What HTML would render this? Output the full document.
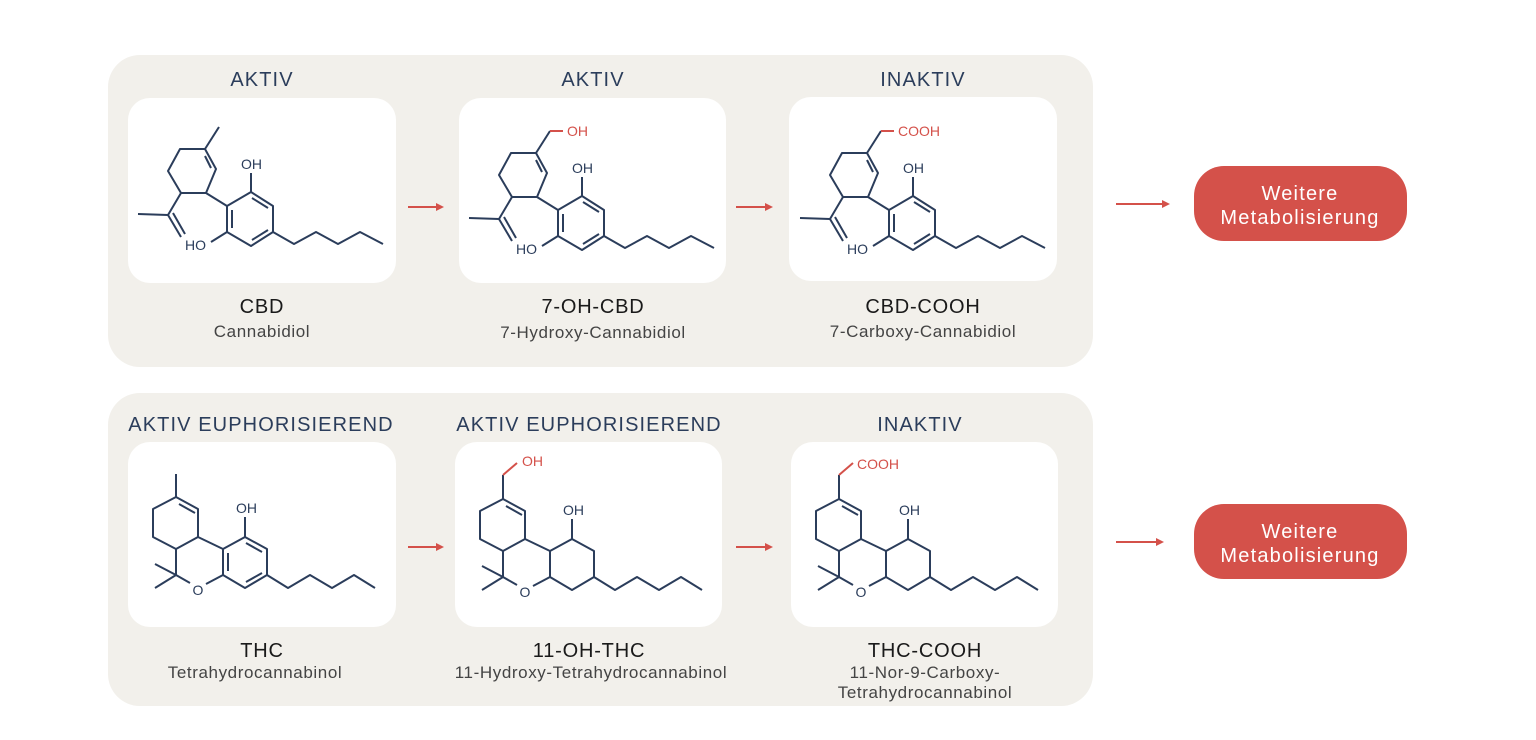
<!DOCTYPE html>
<html><head><meta charset="utf-8"><style>
html,body{margin:0;padding:0;background:#fff;}
svg{display:block}
text{font-family:"Liberation Sans",sans-serif}
</style></head><body>
<svg width="1536" height="740" viewBox="0 0 1536 740" xmlns="http://www.w3.org/2000/svg">
<defs>
<g id="cbdcore" fill="none" stroke="#2b3d5b" stroke-width="2" stroke-linejoin="round">
  <polyline points="77,51 52,51 40,73 53,95 78,95 88,71 77,51"/>
  <line x1="77" y1="58" x2="83" y2="70"/>
  <polyline points="53,95 40,117 10,116"/>
  <line x1="40" y1="117" x2="53" y2="139"/><line x1="45" y1="115" x2="57" y2="136"/>
  <line x1="78" y1="95" x2="99" y2="108"/>
  <polygon points="99,108 123,94 145,108 145,134 123,148 99,134"/>
  <line x1="104" y1="112" x2="104" y2="130"/><line x1="124" y1="100" x2="140" y2="110"/><line x1="124" y1="142" x2="140" y2="132"/>
  <line x1="123" y1="94" x2="123" y2="75"/>
  <line x1="99" y1="134" x2="83" y2="144"/>
  <polyline points="145,134 166,146 188,134 210,146 232,134 255,146"/>
</g>
<g id="thccore" fill="none" stroke="#2b3d5b" stroke-width="2" stroke-linejoin="round">
  <polygon points="48,55 70,67 70,95 48,107 25,95 25,67"/>
  <line x1="51" y1="62" x2="67" y2="71"/>
  <polyline points="70,95 95,107"/>
  <polyline points="48,107 48,133 62,141"/>
  <line x1="78" y1="142" x2="95" y2="133"/>
  <polygon points="95,107 117,95 139,107 139,133 117,146 95,133"/>
  <line x1="117" y1="95" x2="117" y2="75"/>
  <line x1="48" y1="133" x2="27" y2="122"/><line x1="48" y1="133" x2="27" y2="146"/>
  <polyline points="139,133 160,146 182,133 204,146 226,133 247,146"/>
</g>
<g id="arom" fill="none" stroke="#2b3d5b" stroke-width="2">
  <line x1="100" y1="111" x2="100" y2="129"/><line x1="118" y1="101" x2="134" y2="110"/><line x1="118" y1="140" x2="134" y2="131"/>
</g>
</defs>

<rect x="108" y="55" width="985" height="312" rx="32" fill="#f2f0eb"/>
<rect x="108" y="393" width="985" height="313" rx="32" fill="#f2f0eb"/>

<g fill="#fff">
<rect x="128" y="98" width="268" height="185" rx="22"/>
<rect x="459" y="98" width="267" height="185" rx="22"/>
<rect x="789" y="97" width="268" height="184" rx="22"/>
<rect x="128" y="442" width="268" height="185" rx="22"/>
<rect x="455" y="442" width="267" height="185" rx="22"/>
<rect x="791" y="442" width="267" height="185" rx="22"/>
</g>

<g font-size="20" fill="#2b3d5b" text-anchor="middle" letter-spacing="1.1">
<text x="262" y="86">AKTIV</text>
<text x="593" y="86">AKTIV</text>
<text x="923" y="86">INAKTIV</text>
<text x="261" y="431">AKTIV EUPHORISIEREND</text>
<text x="589" y="431">AKTIV EUPHORISIEREND</text>
<text x="920" y="431">INAKTIV</text>
</g>

<!-- CBD -->
<g transform="translate(128,98)">
  <use href="#cbdcore"/>
  <line x1="77" y1="51" x2="91" y2="29" stroke="#2b3d5b" stroke-width="2"/>
  <text x="113" y="71" font-size="14" fill="#2b3d5b">OH</text>
  <text x="57" y="152" font-size="14" fill="#2b3d5b">HO</text>
</g>
<!-- 7-OH-CBD -->
<g transform="translate(459,102)">
  <use href="#cbdcore"/>
  <polyline points="77,51 91,29" fill="none" stroke="#2b3d5b" stroke-width="2"/>
  <line x1="91" y1="29" x2="104" y2="29" stroke="#d4514a" stroke-width="2"/>
  <text x="108" y="34" font-size="14" fill="#d4514a">OH</text>
  <text x="113" y="71" font-size="14" fill="#2b3d5b">OH</text>
  <text x="57" y="152" font-size="14" fill="#2b3d5b">HO</text>
</g>
<!-- CBD-COOH -->
<g transform="translate(790,102)">
  <use href="#cbdcore"/>
  <polyline points="77,51 91,29" fill="none" stroke="#2b3d5b" stroke-width="2"/>
  <line x1="91" y1="29" x2="104" y2="29" stroke="#d4514a" stroke-width="2"/>
  <text x="108" y="34" font-size="14" fill="#d4514a">COOH</text>
  <text x="113" y="71" font-size="14" fill="#2b3d5b">OH</text>
  <text x="57" y="152" font-size="14" fill="#2b3d5b">HO</text>
</g>
<!-- THC -->
<g transform="translate(128,442)">
  <use href="#thccore"/><use href="#arom"/>
  <line x1="48" y1="55" x2="48" y2="32" stroke="#2b3d5b" stroke-width="2"/>
  <text x="108" y="71" font-size="14" fill="#2b3d5b">OH</text>
  <text x="70" y="153" font-size="14" fill="#2b3d5b" text-anchor="middle">O</text>
</g>
<!-- 11-OH-THC -->
<g transform="translate(455,444)">
  <use href="#thccore"/>
  <line x1="48" y1="55" x2="48" y2="31" stroke="#2b3d5b" stroke-width="2"/>
  <line x1="48" y1="31" x2="62" y2="19" stroke="#d4514a" stroke-width="2"/>
  <text x="67" y="22" font-size="14" fill="#d4514a">OH</text>
  <text x="108" y="71" font-size="14" fill="#2b3d5b">OH</text>
  <text x="70" y="153" font-size="14" fill="#2b3d5b" text-anchor="middle">O</text>
</g>
<!-- THC-COOH -->
<g transform="translate(791,444)">
  <use href="#thccore"/>
  <line x1="48" y1="55" x2="48" y2="31" stroke="#2b3d5b" stroke-width="2"/>
  <line x1="48" y1="31" x2="62" y2="19" stroke="#d4514a" stroke-width="2"/>
  <text x="66" y="25" font-size="14" fill="#d4514a">COOH</text>
  <text x="108" y="71" font-size="14" fill="#2b3d5b">OH</text>
  <text x="70" y="153" font-size="14" fill="#2b3d5b" text-anchor="middle">O</text>
</g>

<g text-anchor="middle">
<g font-size="20" fill="#1a1a1a" letter-spacing="0.8">
<text x="262" y="313">CBD</text>
<text x="593" y="313">7-OH-CBD</text>
<text x="923" y="313">CBD-COOH</text>
<text x="262" y="657">THC</text>
<text x="589" y="657">11-OH-THC</text>
<text x="925" y="657">THC-COOH</text>
</g>
<g font-size="17" fill="#444" letter-spacing="0.6">
<text x="262" y="337">Cannabidiol</text>
<text x="593" y="338">7-Hydroxy-Cannabidiol</text>
<text x="923" y="337">7-Carboxy-Cannabidiol</text>
<text x="255" y="678">Tetrahydrocannabinol</text>
<text x="591" y="678">11-Hydroxy-Tetrahydrocannabinol</text>
<text x="925" y="678">11-Nor-9-Carboxy-</text>
<text x="925" y="698">Tetrahydrocannabinol</text>
</g>
</g>

<g stroke="#d4514a" stroke-width="2" fill="#d4514a">
<line x1="408" y1="207" x2="438" y2="207"/><polygon points="444,207 436,203 436,211" stroke="none"/>
<line x1="736" y1="207" x2="767" y2="207"/><polygon points="773,207 765,203 765,211" stroke="none"/>
<line x1="1116" y1="204" x2="1164" y2="204"/><polygon points="1170,204 1162,200 1162,208" stroke="none"/>
<line x1="408" y1="547" x2="438" y2="547"/><polygon points="444,547 436,543 436,551" stroke="none"/>
<line x1="736" y1="547" x2="767" y2="547"/><polygon points="773,547 765,543 765,551" stroke="none"/>
<line x1="1116" y1="542" x2="1158" y2="542"/><polygon points="1164,542 1156,538 1156,546" stroke="none"/>
</g>

<rect x="1194" y="166" width="213" height="75" rx="30" fill="#d4514a"/>
<rect x="1194" y="504" width="213" height="75" rx="30" fill="#d4514a"/>
<g fill="#fff" font-size="20" text-anchor="middle" letter-spacing="1.2">
<text x="1300" y="200">Weitere</text><text x="1300" y="224">Metabolisierung</text>
<text x="1300" y="538">Weitere</text><text x="1300" y="562">Metabolisierung</text>
</g>
</svg>
</body></html>
